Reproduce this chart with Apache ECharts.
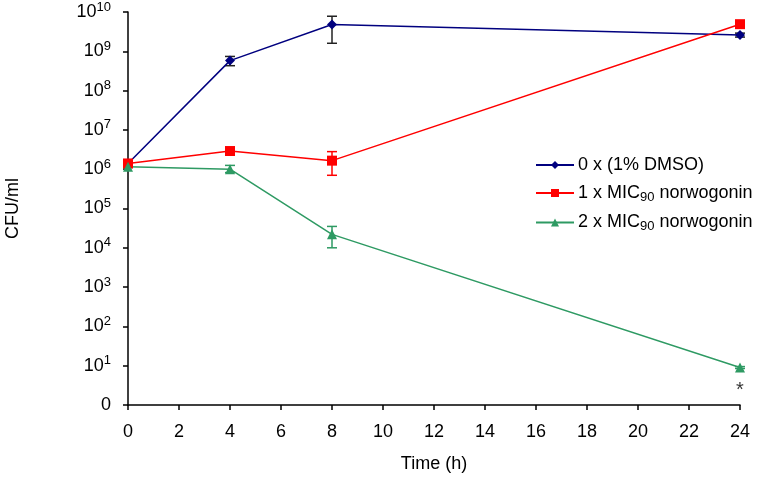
<!DOCTYPE html>
<html><head><meta charset="utf-8">
<script src="https://cdn.jsdelivr.net/npm/echarts@6/dist/echarts.min.js"></script>
<style>html,body{margin:0;padding:0;background:#fff}#c{width:764px;height:478px}</style>
</head><body><div id="c"></div>
<script>
const times = [0, 4, 8, 24];
const seriesNames = ['0 x (1% DMSO)', '1 x MIC90 norwogonin', '2 x MIC90 norwogonin'];
const dmso = [1.4e6, 5.8e8, 4.8e9, 2.6e9];
const dmsoLow = [1.3e6, 4.3e8, 1.6e9, 2.3e9];
const dmsoHigh = [1.5e6, 7.4e8, 7.8e9, 2.9e9];
const mic1 = [1.4e6, 2.9e6, 1.65e6, 4.9e9];
const mic1Low = [1.3e6, 2.7e6, 0.7e6, 4.6e9];
const mic1High = [1.5e6, 3.1e6, 2.8e6, 5.2e9];
const mic2 = [1.15e6, 1.0e6, 2.2e4, 9];
const mic2Low = [1.1e6, 0.82e6, 1.0e4, 8.5];
const mic2High = [1.2e6, 1.25e6, 3.5e4, 9.5];
const xTicks = [0, 2, 4, 6, 8, 10, 12, 14, 16, 18, 20, 22, 24];
const starPoint = [[24, 2.4]];

const colors = ['#00007f', '#ff0000', '#2e9a63'];
const errColors = ['#222222', '#ff0000', '#2e9a63'];
const font = 'Liberation Sans, Arial, sans-serif';

function pts(vals){ return times.map((t,i)=>[t, vals[i]]); }
function errData(vals, lo, hi){ return times.map((t,i)=>[t, lo[i], hi[i]]); }
function errSeries(lo, hi, col, vals){
  return {
    type: 'custom', silent: true, z: 1,
    renderItem: function(params, api){
      const x = api.value(0);
      const p1 = api.coord([x, api.value(1)]);
      const p2 = api.coord([x, api.value(2)]);
      const w = 5;
      const st = {stroke: col, lineWidth: 1.5};
      return {type: 'group', children: [
        {type:'line', shape:{x1:p1[0], y1:p1[1], x2:p2[0], y2:p2[1]}, style: st},
        {type:'line', shape:{x1:p1[0]-w, y1:p1[1], x2:p1[0]+w, y2:p1[1]}, style: st},
        {type:'line', shape:{x1:p2[0]-w, y1:p2[1], x2:p2[0]+w, y2:p2[1]}, style: st}
      ]};
    },
    encode: {x: 0, y: [1, 2]},
    data: errData(vals, lo, hi)
  };
}

const legendNames = {};
legendNames[seriesNames[0]] = '0 x (1% DMSO)';
legendNames[seriesNames[1]] = '1 x MIC{sub|90} norwogonin';
legendNames[seriesNames[2]] = '2 x MIC{sub|90} norwogonin';

const chart = echarts.init(document.getElementById('c'));
chart.setOption({
  animation: false,
  textStyle: {fontFamily: font},
  grid: {left: 128, right: 24, top: 12, bottom: 73, containLabel: false, outerBoundsMode: 'none'},
  legend: {
    orient: 'vertical', left: 530, top: 151, itemGap: 10,
    itemWidth: 38, itemHeight: 10,
    data: seriesNames,
    formatter: n => legendNames[n],
    textStyle: {fontSize: 18, color: '#000', fontFamily: font, padding: [0,0,0,-1],
      rich: {sub: {fontSize: 13, verticalAlign: 'bottom', padding: [8,0,0,0], fontFamily: font, color:'#000'}}}
  },
  xAxis: {
    type: 'value', min: 0, max: 24, interval: 2,
    name: 'Time (h)', nameLocation: 'middle', nameGap: 50,
    nameTextStyle: {fontSize: 18, color: '#000', fontFamily: font},
    axisLine: {lineStyle: {color: '#000', width: 1.5}},
    axisTick: {show: true, inside: false, length: 5, lineStyle: {color: '#000', width: 1.5}},
    axisLabel: {fontSize: 18, color: '#000', margin: 18, fontFamily: font,
      formatter: v => xTicks.includes(v) ? String(v) : ''},
    splitLine: {show: false}
  },
  yAxis: {
    type: 'log', logBase: 10, min: 1, max: 1e10, interval: 1,
    name: 'CFU/ml', nameLocation: 'middle', nameGap: 106, nameRotate: 90,
    nameTextStyle: {fontSize: 18, color: '#000', fontFamily: font},
    axisLine: {show: true, lineStyle: {color: '#000', width: 1.5}},
    axisTick: {show: true, inside: false, length: 5, lineStyle: {color: '#000', width: 1.5}},
    axisLabel: {
      fontSize: 18, color: '#000', margin: 17, fontFamily: font,
      formatter: function(v){
        const e = Math.round(Math.log10(v));
        if (e === 0) return '0';
        return '10{sup|' + e + '}';
      },
      rich: {sup: {fontSize: 13, verticalAlign: 'top', padding: [0,0,10,0], fontFamily: font, color: '#000'}}
    },
    splitLine: {show: false}
  },
  series: [
    errSeries(dmsoLow, dmsoHigh, errColors[0], dmso),
    errSeries(mic1Low, mic1High, errColors[1], mic1),
    errSeries(mic2Low, mic2High, errColors[2], mic2),
    {name: seriesNames[0], type: 'line', data: pts(dmso), color: colors[0], z: 3,
      symbol: 'diamond', symbolSize: 10, lineStyle: {width: 1.5, color: colors[0]}, itemStyle: {color: colors[0]}},
    {name: seriesNames[1], type: 'line', data: pts(mic1), color: colors[1], z: 3,
      symbol: 'rect', symbolSize: 10, lineStyle: {width: 1.5, color: colors[1]}, itemStyle: {color: colors[1]}},
    {name: seriesNames[2], type: 'line', data: pts(mic2), color: colors[2], z: 3,
      symbol: 'triangle', symbolSize: 10, lineStyle: {width: 1.5, color: colors[2]}, itemStyle: {color: colors[2]}},
    {type: 'scatter', data: starPoint, symbolSize: 0, silent: true,
      label: {show: true, position: 'inside', formatter: '*', fontSize: 20, color: '#000', fontFamily: font}}
  ]
});
</script></body></html>
